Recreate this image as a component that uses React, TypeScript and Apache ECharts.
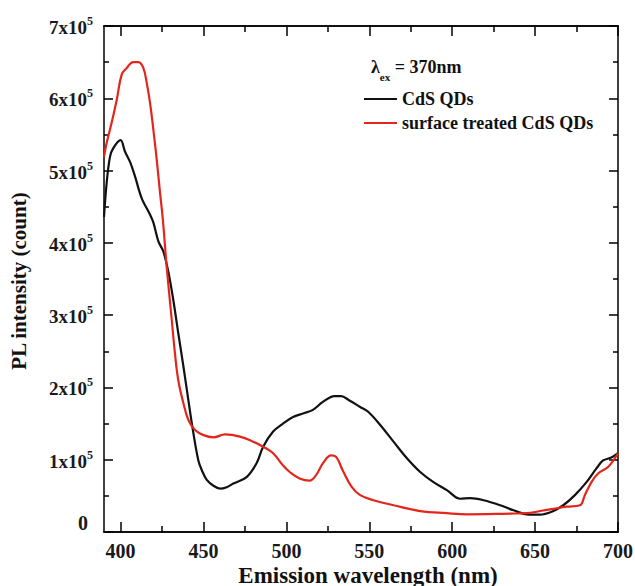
import React, { useEffect, useRef } from "react";
import * as echarts from "echarts";

const wavelengthsCdS = [390, 391.6, 393.6, 395.6, 400, 402.7, 405.7, 408.7, 412.7, 417.8, 419.8, 422.8, 425.8, 428.8, 431.8, 434.8, 437.9, 440.9, 443.9, 446.9, 449, 452, 456, 460, 464, 468, 476, 482, 486, 492, 498, 504, 510, 516, 522, 529, 533, 538, 544.5, 549.5, 556.6, 564.6, 572.7, 580.7, 588.7, 596.8, 604.8, 611, 619, 629, 637, 645, 653, 660, 667, 674, 681, 687, 691, 696, 700];
const intensityCdS = [436000, 483000, 519000, 531000, 542000, 526000, 512000, 492000, 462000, 439000, 428000, 402000, 388000, 360000, 321000, 275000, 229000, 182000, 137000, 99000, 85500, 72000, 64000, 60000, 62000, 67000, 76000, 95000, 118000, 139000, 150000, 159000, 164000, 169000, 180000, 188000, 188000, 182000, 173000, 166000, 148000, 125000, 102000, 83000, 69000, 58000, 46000, 47000, 44000, 37000, 30000, 24500, 24000, 28000, 37000, 51000, 69000, 88000, 99000, 103000, 109000];

const wavelengthsTreated = [390, 391.6, 394.6, 397.7, 400.7, 403.7, 407.7, 410.7, 413.7, 415.8, 417.8, 419.8, 421.8, 423.8, 425.5, 427.8, 430.8, 432.8, 434.8, 437.9, 440.9, 444.9, 450, 456, 463, 472, 480, 486, 492, 498, 502, 508, 514, 518, 522, 527, 530, 534, 539.5, 544.5, 552.5, 564.6, 580.7, 596.8, 609, 635, 645, 653, 661, 669, 677, 680, 684, 688, 694, 700];
const intensityTreated = [519000, 538000, 566000, 598000, 633000, 642000, 650000, 650000, 642000, 621000, 593000, 556000, 515000, 469000, 432000, 367000, 295000, 247000, 210000, 178000, 155000, 141000, 134000, 131000, 135000, 132000, 125000, 118000, 109000, 92000, 83000, 74000, 71000, 79000, 95000, 106000, 104000, 85000, 62000, 51000, 44000, 37000, 29000, 26000, 24500, 25500, 26000, 29000, 32000, 35000, 37000, 51000, 69000, 81000, 90000, 109000];

const xMajorTicks = [400, 450, 500, 550, 600, 650, 700];
const xMinorTicks = [425, 475, 525, 575, 625, 675];
const seriesNames = ["CdS QDs", "surface treated CdS QDs"];

const FONT = '"Liberation Serif", "Times New Roman", serif';

export default function App() {
  const ref = useRef<HTMLDivElement>(null);
  useEffect(() => {
    if (!ref.current) return;
    const chart = echarts.init(ref.current, undefined, { renderer: "svg" });
    const axisLine = { show: true, onZero: false, lineStyle: { color: "#000", width: 1.5 } };
    const xBase = { type: "value", min: 390, max: 700, splitLine: { show: false }, axisLine };
    const yBase = {
      type: "value", min: 0, max: 700000, interval: 100000, splitLine: { show: false }, axisLine,
      axisTick: { show: true, inside: true, length: 9, lineStyle: { color: "#000", width: 1.5 } },
      minorTick: { show: true, splitNumber: 2, length: 5, lineStyle: { color: "#000", width: 1.5 } },
    };
    chart.setOption({
      animation: false,
      grid: { left: 104, right: 17, top: 26, bottom: 54, containLabel: false, outerBoundsMode: "none" },
      xAxis: [
        {
          ...xBase, position: "bottom",
          axisTick: { show: true, inside: true, length: 10, customValues: xMajorTicks, lineStyle: { color: "#000", width: 1.5 } },
          axisLabel: { show: true, customValues: xMajorTicks, fontFamily: FONT, fontWeight: "bold", fontSize: 20, color: "#1a1a1a", margin: 9 },
        },
        {
          ...xBase, position: "bottom",
          axisTick: { show: true, inside: true, length: 6, customValues: xMinorTicks, lineStyle: { color: "#000", width: 1.5 } },
          axisLabel: { show: false },
        },
        {
          ...xBase, position: "top",
          axisTick: { show: true, inside: true, length: 10, customValues: xMajorTicks, lineStyle: { color: "#000", width: 1.5 } },
          axisLabel: { show: false },
        },
        {
          ...xBase, position: "top",
          axisTick: { show: true, inside: true, length: 6, customValues: xMinorTicks, lineStyle: { color: "#000", width: 1.5 } },
          axisLabel: { show: false },
        },
      ],
      yAxis: [
        {
          ...yBase, position: "left",
          axisLabel: {
            show: true, margin: 11,
            formatter: (v: number) => (v === 0 ? "{z|0}" : `{m|${Math.round(v / 100000)}x10}{s|5}`),
            rich: {
              z: { fontFamily: FONT, fontWeight: "bold", fontSize: 20, color: "#1a1a1a", padding: [0, 5, 18, 0], verticalAlign: "bottom" },
              m: { fontFamily: FONT, fontWeight: "bold", fontSize: 19, color: "#1a1a1a", verticalAlign: "bottom" },
              s: { fontFamily: FONT, fontWeight: "bold", fontSize: 12, color: "#1a1a1a", padding: [0, 0, 10, 0], verticalAlign: "bottom" },
            },
          },
        },
        { ...yBase, position: "right", axisLabel: { show: false } },
      ],
      legend: {
        data: seriesNames, orient: "vertical", left: 359, top: 85, icon: "rect",
        itemWidth: 33, itemHeight: 2, itemGap: 6, itemTextGap: 4,
        textStyle: { fontFamily: FONT, fontWeight: "bold", fontSize: 18, color: "#111", lineHeight: 18 },
      },
      graphic: [
        {
          type: "text", x: 19, y: 281, rotation: Math.PI / 2,
          style: { text: "PL intensity (count)", font: `bold 21px ${FONT}`, fill: "#111", align: "center", verticalAlign: "middle" },
        },
        {
          type: "text", x: 368, y: 575,
          style: { text: "Emission wavelength (nm)", font: `bold 23px ${FONT}`, fill: "#111", align: "center", verticalAlign: "middle" },
        },
        {
          type: "text", x: 371, y: 70,
          style: {
            text: "{l|λ}{s|ex}{n| = 370nm}", align: "left", verticalAlign: "middle",
            rich: {
              l: { fontFamily: FONT, fontWeight: "bold", fontSize: 18, fill: "#111", padding: [0, 0, 6, 0], verticalAlign: "bottom" },
              s: { fontFamily: FONT, fontWeight: "bold", fontSize: 11, fill: "#111", verticalAlign: "bottom" },
              n: { fontFamily: FONT, fontWeight: "bold", fontSize: 18, fill: "#111", padding: [0, 0, 6, 0], verticalAlign: "bottom" },
            },
          },
        },
      ],
      series: [
        {
          name: seriesNames[0], type: "line", xAxisIndex: 0, yAxisIndex: 0,
          data: wavelengthsCdS.map((w, i) => [w, intensityCdS[i]]),
          showSymbol: false, smooth: 0.35,
          lineStyle: { color: "#111", width: 2.2 }, itemStyle: { color: "#111" },
        },
        {
          name: seriesNames[1], type: "line", xAxisIndex: 0, yAxisIndex: 0,
          data: wavelengthsTreated.map((w, i) => [w, intensityTreated[i]]),
          showSymbol: false, smooth: 0.4,
          lineStyle: { color: "#e3261c", width: 2.2 }, itemStyle: { color: "#e3261c" },
        },
      ],
    });
    return () => chart.dispose();
  }, []);
  return <div ref={ref} style={{ width: 635, height: 586, position: "absolute", left: 0, top: 0 }} />;
}
